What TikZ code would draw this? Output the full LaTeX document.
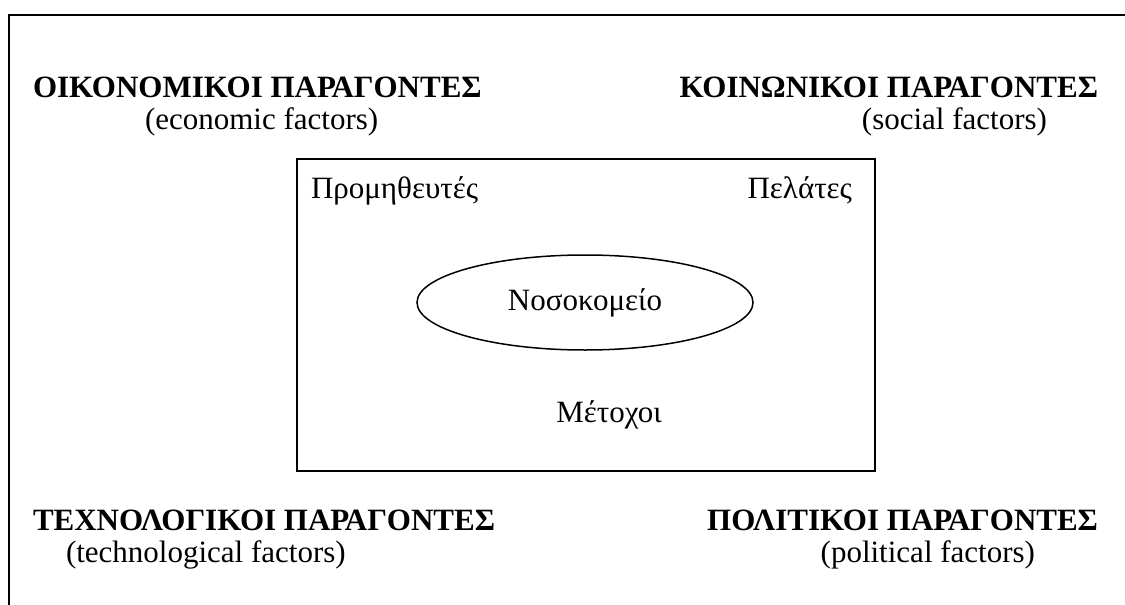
\documentclass[tikz,border=0pt]{standalone}
\usepackage{fontspec}
\setmainfont{Liberation Serif}
\usetikzlibrary{shapes.geometric}
\begin{document}
\begin{tikzpicture}[x=1pt,y=-1pt,
  every node/.style={inner sep=0pt,outer sep=0pt,font=\fontsize{31}{36}\selectfont},
  title/.style={anchor=base west,font=\fontsize{31}{36}\selectfont\bfseries},
  titler/.style={anchor=base east,font=\fontsize{31}{36}\selectfont\bfseries},
  sub/.style={anchor=base west},
  subr/.style={anchor=base east},
  frameline/.style={line width=2pt},
  box/.style={draw,line width=2pt,minimum width=578pt,minimum height=312pt},
  oval/.style={draw,ellipse,line width=1.5pt,minimum width=336pt,minimum height=95pt}]
\useasboundingbox (0,0) rectangle (1125,605);
\coordinate (tl) at (9,15);
\coordinate (tr) at (1125,15);
\coordinate (bl) at (9,605);
\draw[frameline] (bl) -- (tl) -- (tr);
\node[title] (econ) at (33,97) {ΟΙΚΟΝΟΜΙΚΟΙ ΠΑΡΑΓΟΝΤΕΣ};
\node[sub] (econs) at (145,129) {(economic factors)};
\node[titler] (soc) at (1098,97) {ΚΟΙΝΩΝΙΚΟΙ ΠΑΡΑΓΟΝΤΕΣ};
\node[subr] (socs) at (1047,129) {(social factors)};
\node[title] (tech) at (33,530) {ΤΕΧΝΟΛΟΓΙΚΟΙ ΠΑΡΑΓΟΝΤΕΣ};
\node[sub] (techs) at (66,562) {(technological factors)};
\node[titler] (pol) at (1098,530) {ΠΟΛΙΤΙΚΟΙ ΠΑΡΑΓΟΝΤΕΣ};
\node[subr] (pols) at (1035,562) {(political factors)};
\node[box] (env) at (586,315) {};
\node[oval] (hosp) at (585,302.5) {Νοσοκομείο};
\node[sub] (supp) at (311,198) {Προμηθευτές};
\node[subr] (cust) at (852,198) {Πελάτες};
\node[anchor=base] (share) at (609,422) {Μέτοχοι};
\end{tikzpicture}
\end{document}
